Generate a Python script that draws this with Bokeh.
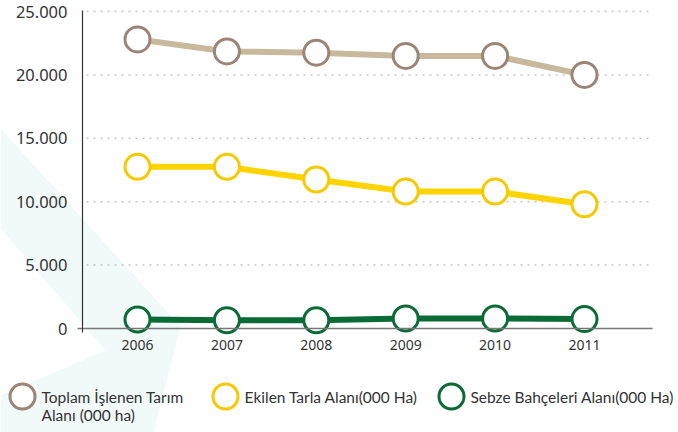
from bokeh.plotting import figure
from bokeh.models import Range1d, FixedTicker, LinearAxis
from bokeh.core.properties import value
from bokeh.embed import file_html
from bokeh.resources import INLINE

years = [2006, 2007, 2008, 2009, 2010, 2011]
toplam = [22800, 21850, 21750, 21500, 21500, 20000]
ekilen = [12750, 12750, 11750, 10800, 10800, 9800]
sebze = [710, 650, 650, 790, 790, 740]
y_ticks = [0, 5000, 10000, 15000, 20000, 25000]
y_tick_labels = ["0", "5.000", "10.000", "15.000", "20.000", "25.000"]
series_names = ["Toplam İşlenen Tarım\nAlanı (000 ha)", "Ekilen Tarla Alanı(000 Ha)", "Sebze Bahçeleri Alanı(000 Ha)"]
line_colors = ["#c9b99c", "#ffd400", "#0b6b36"]
marker_colors = ["#9b8576", "#f7c900", "#0b6b36"]

# pixel geometry (layout only)
W, H = 678, 432
X0PX, PXX = 137, 89.4          # pixel of first year, pixels per year
Y0PX, PXY = 328, 317 / 25000   # pixel of zero, pixels per unit
def xd(px):
    return years[0] + (px - X0PX) / PXX
def yd(py):
    return (Y0PX - py) / PXY

p = figure(width=W, height=H, output_backend="svg", toolbar_location=None,
           x_range=Range1d(xd(0), xd(W)), y_range=Range1d(yd(H), yd(0)),
           x_axis_location=None, y_axis_location=None, min_border=0)
p.outline_line_color = None
p.grid.visible = False

# faint background decoration
deco_px = [(0, 128), (180, 326), (153, 432), (0, 432), (0, 395), (105, 350), (0, 228)]
p.patch([xd(a) for a, b in deco_px], [yd(b) for a, b in deco_px],
        fill_color="#f1f9f9", line_color=None)

# dotted horizontal grid lines
gt = y_ticks[1:]
p.segment(x0=[xd(86)] * len(gt), x1=[xd(652)] * len(gt), y0=gt, y1=gt,
          line_color="#c8c8c8", line_dash="2 5", line_width=1.5)

yaxis = LinearAxis(ticker=FixedTicker(ticks=y_ticks), fixed_location=xd(82),
                   bounds=(yd(Y0PX + 4), yd(10)))
yaxis.major_label_overrides = {t: l for t, l in zip(y_ticks, y_tick_labels)}
yaxis.axis_line_color = "#333333"
yaxis.axis_line_width = 1.2
yaxis.major_tick_line_color = None
yaxis.minor_tick_line_color = None
yaxis.major_label_standoff = 9
yaxis.major_label_text_font = "Noto Sans"
yaxis.major_label_text_font_size = "16.5px"
yaxis.major_label_text_color = "#333333"
p.add_layout(yaxis, "left")

xaxis = LinearAxis(ticker=FixedTicker(ticks=years), fixed_location=0,
                   bounds=(xd(77), xd(652)))
xaxis.major_label_overrides = {y: str(y) for y in years}
xaxis.axis_line_color = "#777777"
xaxis.axis_line_width = 1.5
xaxis.major_tick_line_color = None
xaxis.minor_tick_line_color = None
xaxis.major_label_standoff = 5
xaxis.major_label_text_font = "Noto Sans"
xaxis.major_label_text_font_size = "14px"
xaxis.major_label_text_color = "#333333"
p.add_layout(xaxis, "below")

for vals, lc, mc in zip([toplam, ekilen, sebze], line_colors, marker_colors):
    p.line(years, vals, line_color=lc, line_width=6)
    p.scatter(years, vals, size=25, marker="circle", fill_color="white",
              line_color=mc, line_width=3)

# legend row below the chart
leg_px = [22, 225, 451]
leg_py = 396
p.scatter([xd(a) for a in leg_px], [yd(leg_py)] * 3, size=25, marker="circle",
          fill_color="white", line_color=marker_colors, line_width=3)
tx, ty, tt = [], [], []
for a, name in zip(leg_px, series_names):
    for i, line in enumerate(name.split("\n")):
        tx.append(xd(a + 19))
        ty.append(yd(leg_py + 18 * i))
        tt.append(line)
p.text(tx, ty, text=tt, text_font=value("Lato"), text_font_size="15.5px",
       text_color="#333333", text_baseline="middle", text_align="left")

open("out.html", "w").write(file_html(p, INLINE))
